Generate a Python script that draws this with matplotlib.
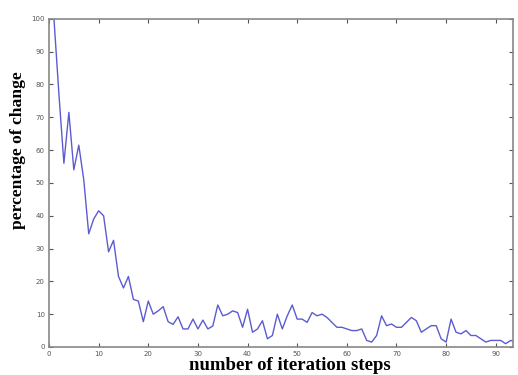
import matplotlib
matplotlib.use("Agg")
import matplotlib.pyplot as plt

steps = list(range(1, 96))
change = [100, 77, 56, 71.5, 54, 61.5, 51, 34.5, 39, 41.5, 40, 29, 32.5, 21.5, 18, 21.5, 14.5, 14, 7.7, 14,
          10, 11, 12.3, 7.7, 6.9, 9.2, 5.5, 5.5, 8.5, 5.5, 8.2, 5.5, 6.4, 12.8, 9.5, 10, 11, 10.5, 6, 11.5,
          4.5, 5.5, 8, 2.5, 3.5, 10, 5.5, 9.5, 12.8, 8.5, 8.5, 7.5, 10.5, 9.5, 10, 9, 7.5, 6, 6, 5.5,
          5, 5, 5.5, 2, 1.5, 3.5, 9.5, 6.5, 7, 6, 6, 7.5, 9, 8, 4.5, 5.5, 6.5, 6.5, 2.5, 1.5,
          8.5, 4.5, 4, 5, 3.5, 3.5, 2.5, 1.5, 2, 2, 2, 1, 2, 1.5, 1]
xticks = [0, 10, 20, 30, 40, 50, 60, 70, 80, 90]
yticks = [0, 10, 20, 30, 40, 50, 60, 70, 80, 90, 100]

fig = plt.figure(figsize=(5.18, 3.75), dpi=100)
ax = fig.add_axes([0.0946, 0.0747, 0.896, 0.875])
ax.plot(steps, change, color='#5c5cd0', lw=1.0)
ax.set_xlim(0, 93.5)
ax.set_ylim(0, 100)
ax.set_xticks(xticks)
ax.set_yticks(yticks)
ax.tick_params(direction='in', length=3, width=0.8, colors='#555555', labelsize=5,
               top=True, right=True, pad=3)
for s in ax.spines.values():
    s.set_color('#888888')
    s.set_linewidth(1.2)
ax.set_xlabel('number of iteration steps', family='Liberation Serif', fontweight='bold',
              fontsize=13.5, labelpad=0)
ax.xaxis.set_label_coords(0.52, -0.081, transform=ax.transAxes)
ax.xaxis.label.set_va('bottom')
ax.set_ylabel('percentage of change', family='Liberation Serif', fontweight='bold',
              fontsize=12.6)
ax.yaxis.set_label_coords(-0.05, 0.6, transform=ax.transAxes)
fig.savefig('out.png', dpi=100)
